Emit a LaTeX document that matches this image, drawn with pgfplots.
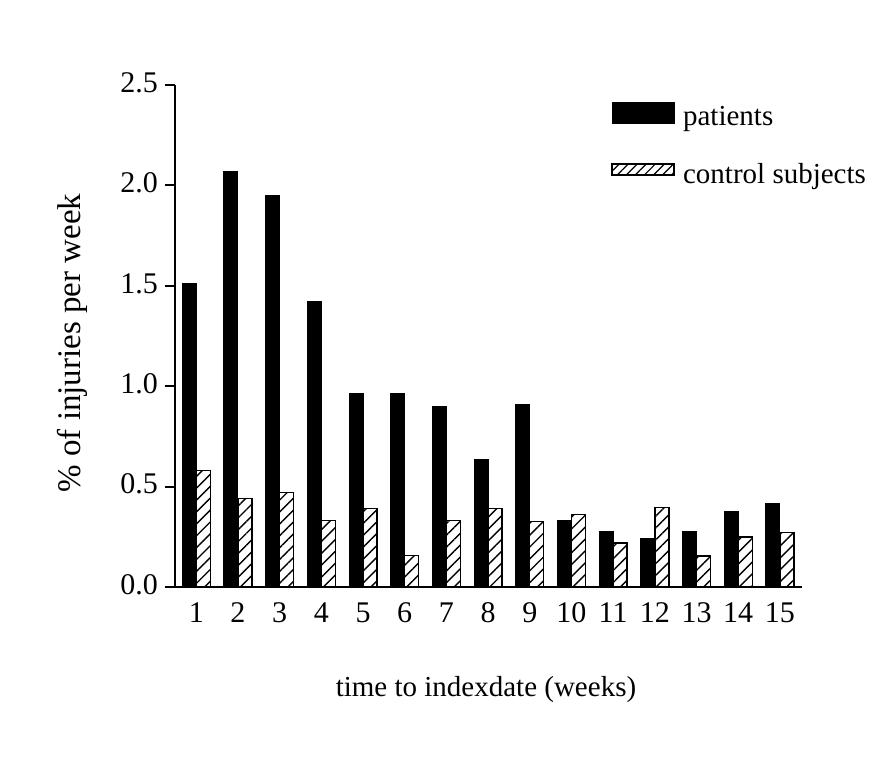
\documentclass[border=0pt]{standalone}
\usepackage{fontspec}
\setmainfont{Liberation Serif}
\usepackage{pgfplots}
\pgfplotsset{compat=1.18}
\usetikzlibrary{patterns.meta}

\pgfplotstableread{
week patients control
1  1.510 0.580
2  2.070 0.440
3  1.950 0.470
4  1.420 0.330
5  0.965 0.390
6  0.965 0.157
7  0.900 0.330
8  0.635 0.390
9  0.910 0.326
10 0.330 0.360
11 0.275 0.220
12 0.240 0.395
13 0.275 0.155
14 0.375 0.250
15 0.415 0.270
}\injuries

\begin{document}
\begin{tikzpicture}
% page frame, 1 px of the reference = 0.5pt
\path[use as bounding box] (-87.5pt,-84.5pt) rectangle (360pt,293.5pt);
\begin{axis}[
  at={(0pt,0pt)}, anchor=south west,
  scale only axis, width=313.5pt, height=251pt,
  xmin=0.49, xmax=15.53, ymin=0, ymax=2.5,
  axis lines=left,
  axis line style={line width=1pt, -},
  xtick={1,...,15},
  ytick={0,0.5,...,2.5},
  x tick style={draw=none},
  y tick style={line width=1pt, black},
  tick align=outside, major tick length=5pt,
  /pgf/number format/assume math mode=true,
  typeset ticklabels with strut,
  xticklabel style={yshift=3.5pt},
  yticklabel style={/pgf/number format/fixed, /pgf/number format/precision=1,
    /pgf/number format/fixed zerofill},
  tick label style={font=\fontsize{15}{18}\selectfont},
  xlabel={time to indexdate (weeks)},
  ylabel={\% of injuries per week},
  xlabel style={at={(axis description cs:0.496,-0.205)}, anchor=center,
    font=\fontsize{14.5}{17}\selectfont},
  ylabel style={at={(axis description cs:-0.164,0.486)}, anchor=center,
    font=\fontsize{16.5}{19}\selectfont},
  bar width=7pt,
  legend style={draw=none, fill=none, at={(axis description cs:0.686,0.975)},
    anchor=north west, font=\fontsize{14.5}{17}\selectfont, row sep=13.5pt,
    /tikz/every odd column/.append style={column sep=2pt}},
  legend cell align=left,
]
  \addplot[ybar, bar shift=-3.5pt, fill=black, draw=black, line width=0.5pt,
    legend image code/.code={\fill[black] (0pt,-3pt) rectangle (31.25pt,7.5pt);}]
    table[x=week, y=patients] {\injuries};
  \addlegendentry{patients}
  \addplot[ybar, bar shift=3.5pt, draw=black, line width=0.7pt,
    pattern={Lines[angle=45, distance=4.2pt, line width=0.7pt]},
    legend image code/.code={\draw[line width=0.7pt, pattern={Lines[angle=45, distance=3.2pt, line width=0.6pt]}] (0pt,0pt) rectangle (31pt,5.5pt);}]
    table[x=week, y=control] {\injuries};
  \addlegendentry{control subjects}
\end{axis}
\end{tikzpicture}
\end{document}
